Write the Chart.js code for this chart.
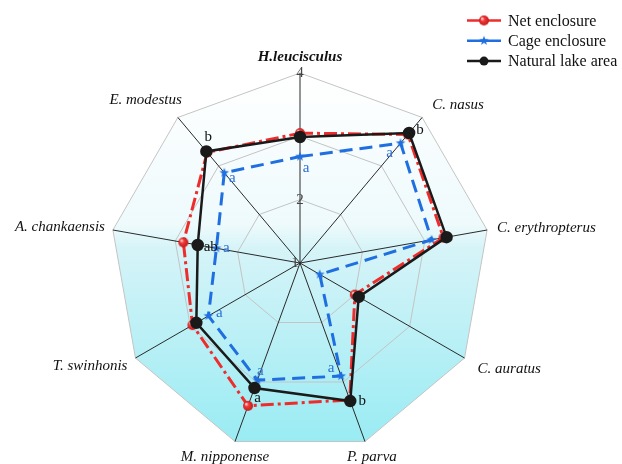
<!DOCTYPE html>
<html>
<head>
<meta charset="utf-8">
<script src="https://cdn.jsdelivr.net/npm/chart.js@4/dist/chart.umd.min.js"></script>
<style>
  html, body { margin: 0; padding: 0; background: #fff; }
  #wrap { width: 622px; height: 464px; }
</style>
</head>
<body>
<div id="wrap"><canvas id="ChartRadar" width="622" height="464"></canvas></div>
<script>
var species = ['H.leucisculus', 'C. nasus', 'C. erythropterus', 'C. auratus', 'P. parva',
               'M. nipponense', 'T. swinhonis', 'A. chankaensis', 'E. modestus'];
var netEnclosure = [3.05, 3.65, 3.30, 2.00, 3.30, 3.40, 2.96, 2.87, 3.28];
var cageEnclosure = [2.68, 3.47, 3.11, 1.36, 2.90, 2.97, 2.67, 2.34, 2.86];
var naturalLake = [2.99, 3.68, 3.35, 2.07, 3.32, 3.10, 2.89, 2.64, 3.30];
var tickValues = [1, 2, 3, 4];

// significance letters: [species index, letter]
var cageLetters = [[0, 'a'], [1, 'a'], [4, 'a'], [5, 'a'], [6, 'a'], [7, 'a'], [8, 'a']];
var lakeLetters = [[1, 'b'], [4, 'b'], [5, 'a'], [7, 'ab'], [8, 'b']];

var serif = '"Liberation Serif", "Times New Roman", serif';

function makeBall(color, r) {
    var c = document.createElement('canvas');
    c.width = c.height = r * 2 + 2;
    var g = c.getContext('2d');
    var grd = g.createRadialGradient(r - 1, r - 1, 0.5, r + 1, r + 1, r);
    grd.addColorStop(0, '#ffd0d0');
    grd.addColorStop(0.35, color);
    grd.addColorStop(1, '#c81818');
    g.fillStyle = grd;
    g.beginPath();
    g.arc(r + 1, r + 1, r, 0, Math.PI * 2);
    g.fill();
    return c;
}

function makeStar(color, r) {
    var c = document.createElement('canvas');
    c.width = c.height = r * 2 + 2;
    var g = c.getContext('2d');
    g.fillStyle = color;
    g.beginPath();
    for (var i = 0; i < 10; i++) {
        var rad = i % 2 === 0 ? r : r * 0.42;
        var a = -Math.PI / 2 + i * Math.PI / 5;
        g.lineTo(r + 1 + rad * Math.cos(a), r + 1 + rad * Math.sin(a));
    }
    g.closePath();
    g.fill();
    return c;
}

var redBall = makeBall('#f03a3a', 5);
var blueStar = makeStar('#1f6fe0', 5);

// gradient background inside the outer polygon
var bgPlugin = {
    id: 'bgPlugin',
    beforeDraw: function (chart) {
        var scale = chart.scales.r;
        var ctx = chart.ctx;
        var n = chart.data.labels.length;
        var top = scale.yCenter - scale.drawingArea;
        var bottom = scale.yCenter + scale.drawingArea;
        var grd = ctx.createLinearGradient(0, top, 0, bottom);
        grd.addColorStop(0, '#ffffff');
        grd.addColorStop(0.4, '#eefafc');
        grd.addColorStop(0.46, '#d6f4f8');
        grd.addColorStop(1, '#96ebf3');
        ctx.save();
        ctx.beginPath();
        for (var i = 0; i < n; i++) {
            var p = scale.getPointPosition(i, scale.drawingArea);
            if (i === 0) ctx.moveTo(p.x, p.y); else ctx.lineTo(p.x, p.y);
        }
        ctx.closePath();
        ctx.fillStyle = grd;
        ctx.fill();
        ctx.restore();
    }
};

// species names around the outer ring: [dx, dy, align] from each spoke tip
var labelPlace = [
    [0, -16, 'center'], [10, -12, 'left'], [10, -2, 'left'], [13, 11, 'left'], [7, 16, 'center'],
    [-10, 16, 'center'], [-8, 8, 'right'], [-8, -3, 'right'], [4, -17, 'right']
];

var axisLabelPlugin = {
    id: 'axisLabelPlugin',
    afterDraw: function (chart) {
        var scale = chart.scales.r;
        var ctx = chart.ctx;
        ctx.save();
        ctx.fillStyle = '#111';
        ctx.textBaseline = 'middle';
        chart.data.labels.forEach(function (name, i) {
            var p = scale.getPointPosition(i, scale.drawingArea);
            var pl = labelPlace[i];
            ctx.font = (i === 0 ? 'italic bold 15px ' : 'italic 15px ') + serif;
            ctx.textAlign = pl[2];
            ctx.fillText(name, p.x + pl[0], p.y + pl[1]);
        });
        // the innermost tick sits on the centre and is skipped by the scale
        ctx.fillStyle = '#444';
        ctx.font = '15px ' + serif;
        ctx.textAlign = 'center';
        var c = scale.getPointPositionForValue(0, tickValues[0]);
        ctx.fillText(String(tickValues[0]), c.x - 5, c.y);
        ctx.restore();
    }
};

var letterOffsets = {
    cage: { 0: [6, 11], 1: [-11, 10], 4: [-10, -8], 5: [3, -9], 6: [11, -3], 7: [10, 0], 8: [8, 5] },
    lake: { 1: [11, -3], 4: [12, 0], 5: [3, 10], 7: [13, 2], 8: [2, -14] }
};

var lettersPlugin = {
    id: 'lettersPlugin',
    afterDatasetsDraw: function (chart) {
        var ctx = chart.ctx;
        ctx.save();
        ctx.font = '15px ' + serif;
        ctx.textAlign = 'center';
        ctx.textBaseline = 'middle';
        var cageMeta = chart.getDatasetMeta(1);
        ctx.fillStyle = '#2a6fd8';
        cageLetters.forEach(function (item) {
            var pt = cageMeta.data[item[0]];
            var off = letterOffsets.cage[item[0]];
            ctx.fillText(item[1], pt.x + off[0], pt.y + off[1]);
        });
        var lakeMeta = chart.getDatasetMeta(2);
        ctx.fillStyle = '#111';
        lakeLetters.forEach(function (item) {
            var pt = lakeMeta.data[item[0]];
            var off = letterOffsets.lake[item[0]];
            ctx.fillText(item[1], pt.x + off[0], pt.y + off[1]);
        });
        ctx.restore();
    }
};

// legend with line + marker, top right
var legendPlugin = {
    id: 'legendPlugin',
    afterDraw: function (chart) {
        var ctx = chart.ctx;
        var x0 = 467, x1 = 501, y = 20.5, step = 20.3;
        ctx.save();
        chart.data.datasets.forEach(function (ds, i) {
            var yy = y + i * step;
            ctx.strokeStyle = ds.borderColor;
            ctx.lineWidth = 2.5;
            ctx.setLineDash([]);
            ctx.beginPath();
            ctx.moveTo(x0, yy);
            ctx.lineTo(x1, yy);
            ctx.stroke();
            var img = ds.pointStyle;
            if (img && img.width) {
                ctx.drawImage(img, (x0 + x1) / 2 - img.width / 2, yy - img.height / 2);
            } else {
                ctx.fillStyle = ds.pointBackgroundColor;
                ctx.beginPath();
                ctx.arc((x0 + x1) / 2, yy, 4.5, 0, Math.PI * 2);
                ctx.fill();
            }
            ctx.fillStyle = '#111';
            ctx.font = '16px ' + serif;
            ctx.textAlign = 'left';
            ctx.textBaseline = 'middle';
            ctx.fillText(ds.label, x1 + 7, yy + 1);
        });
        ctx.restore();
    }
};

var ctx = document.getElementById('ChartRadar').getContext('2d');
var chart = new Chart(ctx, {
    type: 'radar',
    data: {
        labels: species,
        datasets: [
            {
                label: 'Net enclosure',
                data: netEnclosure,
                borderColor: '#ee2c2c',
                borderWidth: 3,
                borderDash: [13, 4, 3, 4],
                fill: false,
                pointStyle: redBall,
                order: 1
            },
            {
                label: 'Cage enclosure',
                data: cageEnclosure,
                borderColor: '#1f6fe0',
                borderWidth: 3,
                borderDash: [13, 7],
                fill: false,
                pointStyle: blueStar,
                order: 2
            },
            {
                label: 'Natural lake area',
                data: naturalLake,
                borderColor: '#1a1a1a',
                borderWidth: 2.5,
                fill: false,
                pointStyle: 'circle',
                pointRadius: 5,
                pointBackgroundColor: '#1a1a1a',
                pointBorderColor: '#1a1a1a',
                order: 0
            }
        ]
    },
    options: {
        responsive: false,
        animation: false,
        layout: { padding: { top: 64, left: 0, right: 21, bottom: 1 } },
        plugins: {
            legend: { display: false },
            tooltip: { enabled: false }
        },
        elements: { line: { tension: 0 } },
        scales: {
            r: {
                min: 1,
                max: 4,
                ticks: {
                    stepSize: 1,
                    showLabelBackdrop: false,
                    color: '#444',
                    font: { family: serif, size: 15 },
                    callback: function (v) { return tickValues.indexOf(v) >= 0 ? v : ''; }
                },
                grid: { color: '#c4c4c4', lineWidth: 1 },
                angleLines: { color: '#2a2a2a', lineWidth: 1 },
                pointLabels: { display: false }
            }
        }
    },
    plugins: [bgPlugin, axisLabelPlugin, lettersPlugin, legendPlugin]
});
</script>
</body>
</html>
